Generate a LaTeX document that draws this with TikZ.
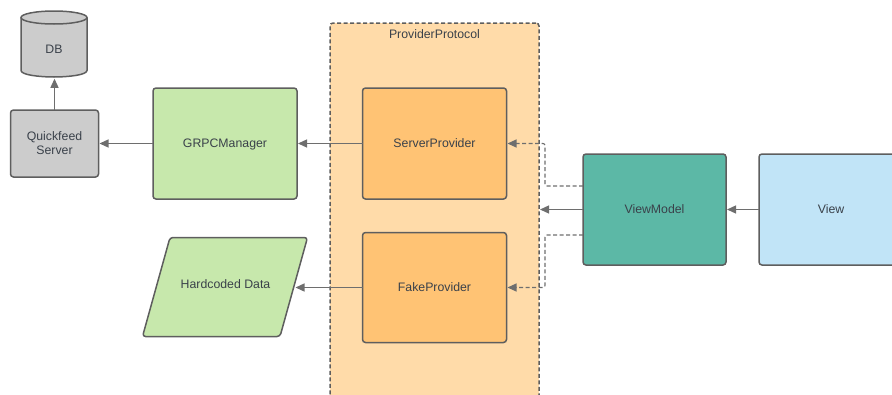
\documentclass[tikz,border=0pt]{standalone}
\usepackage{fontspec}
\setmainfont{Liberation Sans}
\usetikzlibrary{arrows.meta}
\definecolor{ink}{HTML}{3A414A}
\definecolor{edge}{HTML}{5E5E5E}
\definecolor{wire}{HTML}{6E6E6E}
\definecolor{greyfill}{HTML}{CCCCCC}
\definecolor{greenfill}{HTML}{C7E8AC}
\definecolor{orangefill}{HTML}{FFC374}
\definecolor{zonefill}{HTML}{FFDBA9}
\definecolor{tealfill}{HTML}{5CB8A6}
\definecolor{bluefill}{HTML}{C1E4F7}
\tikzset{
  box/.style={draw=edge,line width=1.5pt,rounded corners=3pt,outer sep=0pt,inner sep=0pt,
    text=ink,font=\fontsize{12.3}{14}\selectfont,align=center,minimum width=144pt,minimum height=111pt},
  zone/.style={draw=edge,fill=zonefill,line width=1.5pt,rounded corners=3pt,dash pattern=on 4pt off 2.5pt,
    outer sep=0pt,inner sep=0pt,minimum width=209pt,minimum height=375pt},
  caption/.style={text=ink,font=\fontsize{12.3}{14}\selectfont,inner sep=0pt},
  shapeline/.style={draw=edge,line width=1.5pt,line join=round},
  solidwire/.style={draw=wire,line width=1.3pt,-{Triangle[length=9pt,width=8pt]},shorten >=1pt},
  dashwire/.style={draw=wire,line width=1.1pt,dash pattern=on 4pt off 2.5pt,rounded corners=2pt,
    -{Triangle[length=9pt,width=8pt,sep=0pt]},shorten >=1pt}
}
\begin{document}
\begin{tikzpicture}[x=1pt,y=-1pt]
\useasboundingbox (0,0) rectangle (892,394);
\clip (0,0) rectangle (892,394);
\node[zone] (prov) at (434.5,210.5) {};
\node[caption] (provlabel) at (434.5,34.5) {ProviderProtocol};
% database
\filldraw[shapeline,fill=greyfill] (21,17.5) -- (21,70.5) .. controls (21,75) and (40,77) .. (54,77)
  .. controls (68,77) and (87,75) .. (87,70.5) -- (87,17.5) -- cycle;
\filldraw[shapeline,fill=greyfill] (54,17.5) ellipse [x radius=33pt,y radius=6.5pt];
\node[caption] (db) at (54,49.5) {DB};
\coordinate (dbbase) at (54.5,77.75);
\node[box,fill=greyfill,minimum width=88pt,minimum height=67pt] (qf) at (54.5,143.5) {Quickfeed\\Server};
\node[box,fill=greenfill,text depth=0pt] (grpc) at (225,143.5) {GRPCManager};
\node[box,fill=orangefill] (sp) at (434.5,143.5) {ServerProvider};
\node[box,fill=orangefill,minimum height=110pt] (fp) at (434.5,287.5) {FakeProvider};
\node[box,fill=tealfill,minimum width=143pt] (vm) at (654.5,209.5) {ViewModel};
\node[box,fill=bluefill] (view) at (831,209.5) {View};
% parallelogram
\filldraw[shapeline,fill=greenfill,rounded corners=3pt] (170,237.5) -- (307.5,237.5) -- (280,336.5) -- (142.5,336.5) -- cycle;
\node[caption,text depth=0pt] (hard) at (225.5,284) {Hardcoded Data};
\coordinate (hardport) at (294.5,287.5);
\draw[solidwire] (qf.north) -- (dbbase);
\draw[solidwire] (grpc.west) -- (qf.east);
\draw[solidwire] (sp.west) -- (grpc.east);
\draw[solidwire] (fp.west) -- (hardport);
\draw[solidwire] (view.west) -- (vm.east);
\draw[solidwire] (vm.west) -- (vm.west -| prov.east);
\coordinate (busa) at (545,186);
\coordinate (busb) at (545,235);
\draw[dashwire] (busa -| vm.west) -- (busa) |- (sp.east);
\draw[dashwire] (busb -| vm.west) -- (busb) |- (fp.east);
\end{tikzpicture}
\end{document}
